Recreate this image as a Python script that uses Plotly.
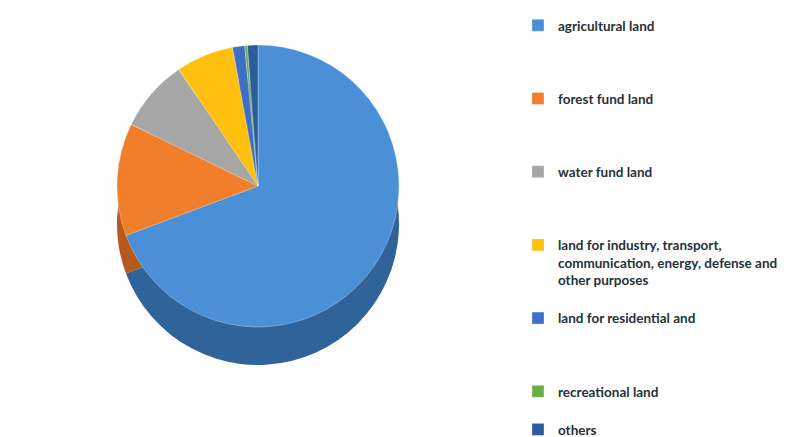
import plotly.graph_objects as go

categories = [
    "agricultural land",
    "forest fund land",
    "water fund land",
    "land for industry, transport,<br>communication, energy, defense and<br>other purposes",
    "land for residential and",
    "recreational land",
    "others",
]
values = [69.3, 12.9, 8.3, 6.6, 1.4, 0.3, 1.2]
top_colors = ["#4b8fd6", "#f07e2b", "#a6a6a6", "#ffc00f", "#3d6fc6", "#6cae46", "#2b5c9e"]
side_colors = ["#2f6399", "#b65a1c", "#7a7a7a", "#bf8f0a", "#2b4f90", "#4e8232", "#1d3f6e"]
# blank lines give each legend entry the spacing seen in the reference
pad_lines = [3, 3, 3, 1, 3, 1, 0]

legend_labels = [c + "<br> " * p for c, p in zip(categories, pad_lines)]

W, H = 795, 437
cx, cy, diam, depth = 250, 178, 282, 38


def dom(cx, cy, d):
    return dict(x=[(cx - d / 2) / W, (cx + d / 2) / W],
                y=[1 - (cy + d / 2) / H, 1 - (cy - d / 2) / H])


fig = go.Figure()
fig.add_trace(go.Pie(
    labels=legend_labels, values=values, sort=False, direction="clockwise",
    rotation=0, textinfo="none", showlegend=False,
    marker=dict(colors=side_colors, line=dict(width=0)),
    domain=dom(cx, cy + depth, diam), hoverinfo="skip",
))
fig.add_trace(go.Pie(
    labels=legend_labels, values=values, sort=False, direction="clockwise",
    rotation=0, textinfo="none",
    marker=dict(colors=top_colors, line=dict(width=0.6, color="rgba(255,255,255,0.5)")),
    domain=dom(cx, cy, diam),
))

fig.update_layout(
    width=W, height=H,
    margin=dict(l=0, r=0, t=0, b=0),
    paper_bgcolor="white", plot_bgcolor="white",
    showlegend=True,
    legend=dict(
        x=510 / W, y=1 - 17 / H, xanchor="left", yanchor="top",
        valign="top", maxheight=1000,
        font=dict(family="Lato, Open Sans, sans-serif", size=13.5, color="#263238", weight="bold"),
        bgcolor="rgba(0,0,0,0)",
    ),
)

fig.write_html("out.html")
